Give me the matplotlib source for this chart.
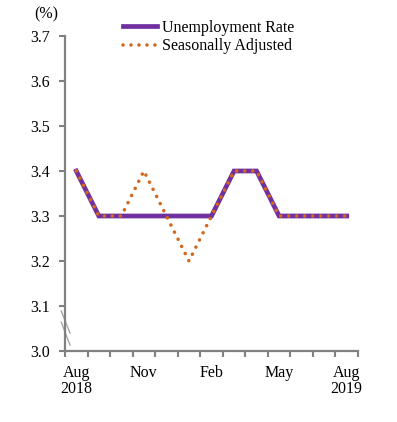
import numpy as np
import matplotlib
matplotlib.use('Agg')
import matplotlib.pyplot as plt

months = ['Aug', 'Sep', 'Oct', 'Nov', 'Dec', 'Jan', 'Feb', 'Mar', 'Apr', 'May', 'Jun', 'Jul', 'Aug']
unemp = [3.4, 3.3, 3.3, 3.3, 3.3, 3.3, 3.3, 3.4, 3.4, 3.3, 3.3, 3.3, 3.3]
seas_adj = [3.4, 3.3, 3.3, 3.4, 3.3, 3.2, 3.3, 3.4, 3.4, 3.3, 3.3, 3.3, 3.3]
label_pos = [0, 3, 6, 9, 12]
label_txt = ['Aug\n2018', 'Nov', 'Feb', 'May', 'Aug\n2019']
yticks = [3.0, 3.1, 3.2, 3.3, 3.4, 3.5, 3.6, 3.7]

plt.rcParams['font.family'] = ['Liberation Serif', 'DejaVu Serif']
plt.rcParams['font.size'] = 11.5

purple = '#7030A0'
orange = '#D2691E'
axcol = '#808080'

fig = plt.figure(figsize=(3.97, 4.22), dpi=100)
ax = fig.add_axes([65 / 397, 1 - 351 / 422, 293 / 397, 315 / 422])

x = np.arange(len(months))
ax.plot(x, unemp, color=purple, lw=3.4, solid_joinstyle='miter', label='Unemployment Rate')
ax.plot(x, seas_adj, color=orange, lw=2.6, linestyle=(0, (0.01, 2.2)),
        dash_capstyle='round', label='Seasonally Adjusted')

ax.set_xlim(-0.5, len(months) - 0.5)
ax.set_ylim(3.0, 3.7)
ax.set_yticks(yticks)
ax.set_yticklabels(['%.1f' % v for v in yticks])

ax.set_xticks(np.arange(-0.5, len(months)))
ax.set_xticklabels([])
ax.set_xticks(label_pos, minor=True)
ax.set_xticklabels(label_txt, minor=True, linespacing=1.0)
ax.tick_params(axis='x', which='minor', length=0, pad=10)
ax.tick_params(axis='x', which='major', length=4, width=1.5, color=axcol)
ax.tick_params(axis='y', length=4, width=1.5, color=axcol, pad=7)

for s in ['top', 'right']:
    ax.spines[s].set_visible(False)
for s in ['left', 'bottom']:
    ax.spines[s].set_color(axcol)
    ax.spines[s].set_linewidth(1.6)

# axis break marks
for y0, y1 in [(0.127, 0.057), (0.092, 0.019)]:
    ax.plot([-0.013, 0.017], [y0, y1], transform=ax.transAxes, color='#a6a6a6',
            lw=1.0, clip_on=False)

fig.text(46 / 397, 1 - 14 / 422, '(%)', ha='center', va='center')

fig.legend(loc='upper left', bbox_to_anchor=(123 / 397, 1 - 20 / 422), frameon=False,
           borderpad=0, borderaxespad=0, handlelength=2.15, handletextpad=0.3,
           labelspacing=0.15)

fig.savefig('out.png', dpi=100)
